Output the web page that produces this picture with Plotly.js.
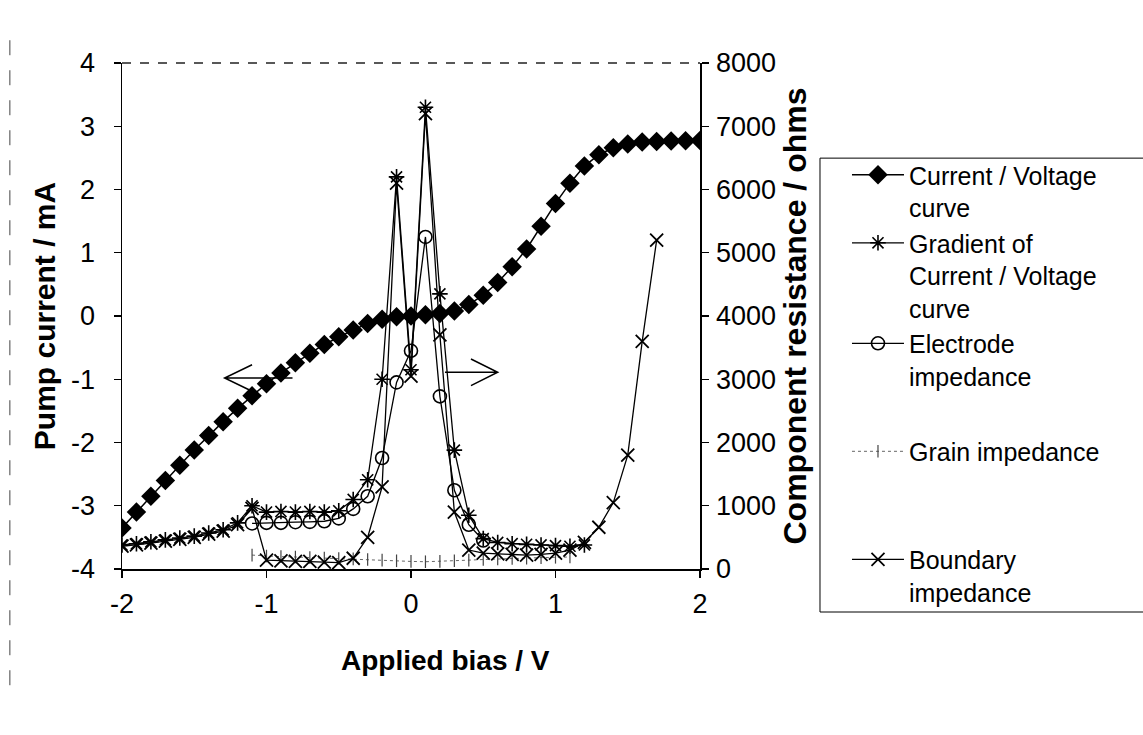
<!DOCTYPE html>
<html>
<head>
<meta charset="utf-8">
<script src="https://cdn.plot.ly/plotly-3.0.1.min.js"></script>
<style>
  html, body { margin: 0; padding: 0; background: #ffffff; }
  #chart { width: 1143px; height: 735px; }
</style>
</head>
<body>
<div id="chart"></div>
<script>
// Applied bias steps (V) for the current / voltage sweep
const bias = [-2.0, -1.9, -1.8, -1.7, -1.6, -1.5, -1.4, -1.3, -1.2, -1.1, -1.0,
              -0.9, -0.8, -0.7, -0.6, -0.5, -0.4, -0.3, -0.2, -0.1, 0.0,
              0.1, 0.2, 0.3, 0.4, 0.5, 0.6, 0.7, 0.8, 0.9, 1.0,
              1.1, 1.2, 1.3, 1.4, 1.5, 1.6, 1.7, 1.8, 1.9, 2.0];
// Pump current (mA)
const pumpCurrent = [-3.35, -3.10, -2.85, -2.60, -2.36, -2.12, -1.89, -1.67, -1.46, -1.26, -1.07,
                     -0.90, -0.74, -0.59, -0.45, -0.33, -0.22, -0.12, -0.05, -0.01, 0.00,
                     0.02, 0.04, 0.08, 0.18, 0.33, 0.53, 0.78, 1.06, 1.42, 1.78,
                     2.10, 2.37, 2.55, 2.66, 2.72, 2.75, 2.76, 2.765, 2.77, 2.775];

// Gradient of the current / voltage curve (ohms)
const gradientBias = [-2.0, -1.9, -1.8, -1.7, -1.6, -1.5, -1.4, -1.3, -1.2, -1.1, -1.0,
                      -0.9, -0.8, -0.7, -0.6, -0.5, -0.4, -0.3, -0.2, -0.1, 0.0,
                      0.1, 0.2, 0.3, 0.4, 0.5, 0.6, 0.7, 0.8, 0.9, 1.0, 1.1, 1.2];
const gradientOhms = [380, 400, 430, 460, 490, 520, 570, 620, 730, 1000, 900,
                      910, 900, 910, 900, 920, 1100, 1410, 3000, 6200, 3150,
                      7300, 4350, 1880, 850, 480, 420, 400, 390, 380, 370, 360, 380];

// Electrode impedance (ohms)
const electrodeBias = [-1.1, -1.0, -0.9, -0.8, -0.7, -0.6, -0.5, -0.4, -0.3, -0.2, -0.1,
                       0.0, 0.1, 0.2, 0.3, 0.4, 0.5];
const electrodeOhms = [720, 730, 730, 740, 745, 755, 800, 950, 1150, 1755, 2950,
                       3450, 5250, 2730, 1245, 700, 450];

// Grain impedance (ohms)
const grainBias = [-1.1, -1.0, -0.9, -0.8, -0.7, -0.6, -0.5, -0.4, -0.3, -0.2, -0.1, 0.0,
                   0.1, 0.2, 0.3, 0.4, 0.5, 0.6, 0.7, 0.8, 0.9, 1.0, 1.1];
const grainOhms = [220, 205, 195, 190, 180, 175, 165, 160, 150, 140, 130, 120,
                   115, 120, 130, 140, 150, 160, 165, 170, 180, 185, 190];

// Boundary impedance (ohms)
const boundaryBias = [-2.0, -1.9, -1.8, -1.7, -1.6, -1.5, -1.4, -1.3, -1.2, -1.1, -1.0,
                      -0.9, -0.8, -0.7, -0.6, -0.5, -0.4, -0.3, -0.2, -0.1, 0.0,
                      0.1, 0.2, 0.3, 0.4, 0.5, 0.6, 0.7, 0.8, 0.9, 1.0,
                      1.1, 1.2, 1.3, 1.4, 1.5, 1.6, 1.7];
const boundaryOhms = [360, 380, 410, 440, 470, 500, 550, 600, 700, 960, 140,
                      130, 120, 120, 110, 100, 170, 500, 1300, 6100, 3050,
                      7200, 3700, 900, 300, 250, 240, 230, 220, 230, 250,
                      300, 420, 660, 1050, 1800, 3600, 5200];

// Axis tick labels
const biasTicks = [-2, -1, 0, 1, 2];
const biasTickText = ['-2', '-1', '0', '1', '2'];
const currentTicks = [-4, -3, -2, -1, 0, 1, 2, 3, 4];
const currentTickText = ['-4', '-3', '-2', '-1', '0', '1', '2', '3', '4'];
const ohmTicks = [0, 1000, 2000, 3000, 4000, 5000, 6000, 7000, 8000];
const ohmTickText = ['0', '1000', '2000', '3000', '4000', '5000', '6000', '7000', '8000'];

const FONT = 'Liberation Sans, Arial, sans-serif';
const INK = '#000000';

const traces = [
  {
    name: 'Current / Voltage<br>curve',
    x: bias, y: pumpCurrent, yaxis: 'y', legendgroup: 'a',
    mode: 'lines+markers',
    line: { color: INK, width: 1.5 },
    marker: { symbol: 'diamond', size: 15, color: INK }
  },
  {
    name: 'Gradient of<br>Current / Voltage<br>curve',
    x: gradientBias, y: gradientOhms, yaxis: 'y2', legendgroup: 'a',
    mode: 'lines+markers',
    line: { color: INK, width: 1.3 },
    marker: { symbol: 'asterisk-open', size: 13, color: INK, line: { width: 1.6, color: INK } }
  },
  {
    name: 'Electrode<br>impedance',
    x: electrodeBias, y: electrodeOhms, yaxis: 'y2', legendgroup: 'a',
    mode: 'lines+markers',
    line: { color: INK, width: 1.3 },
    marker: { symbol: 'circle-open', size: 13, color: INK, line: { width: 1.6, color: INK } }
  },
  {
    name: 'Grain impedance<br> ',
    x: grainBias, y: grainOhms, yaxis: 'y2', legendgroup: 'b',
    mode: 'lines+markers',
    line: { color: '#666666', width: 1, dash: 'dot' },
    marker: { symbol: 'line-ns-open', size: 9, color: '#444444', line: { width: 1.2, color: '#444444' } }
  },
  {
    name: 'Boundary<br>impedance',
    x: boundaryBias, y: boundaryOhms, yaxis: 'y2', legendgroup: 'c',
    mode: 'lines+markers',
    line: { color: INK, width: 1.3 },
    marker: { symbol: 'x-thin-open', size: 13, color: INK, line: { width: 1.8, color: INK } }
  }
];

const axisCommon = {
  showgrid: false, zeroline: false,
  showline: true, linecolor: INK, linewidth: 1.5,
  ticks: 'outside', ticklen: 7, tickwidth: 1.2, tickcolor: INK,
  tickfont: { family: FONT, size: 27, color: INK }
};
// Inner halves of the crossing tick marks
const innerTicks = {
  showgrid: false, zeroline: false, showline: false, showticklabels: false,
  ticks: 'inside', ticklen: 5, tickwidth: 1.2, tickcolor: INK
};
const titleFont = (s) => ({ family: FONT, size: s, color: INK });

const layout = {
  width: 1143, height: 735,
  margin: { l: 122, r: 443, t: 63, b: 166 },
  paper_bgcolor: '#ffffff', plot_bgcolor: '#ffffff',
  font: { family: FONT, color: INK },
  showlegend: true,
  xaxis: Object.assign({}, axisCommon, {
    range: [-2, 2], tickvals: biasTicks, ticktext: biasTickText,
    ticklabelstandoff: 3
  }),
  yaxis: Object.assign({}, axisCommon, {
    range: [-4, 4], tickvals: currentTicks, ticktext: currentTickText,
    ticklabelstandoff: 13,
    title: { text: '<b>Pump current / mA</b>', font: titleFont(30), standoff: 6 }
  }),
  yaxis2: Object.assign({}, axisCommon, {
    overlaying: 'y', side: 'right',
    range: [0, 8000], tickvals: ohmTicks, ticktext: ohmTickText,
    ticklabelstandoff: 2,
    title: { text: '<b>Component resistance / ohms</b>', font: titleFont(32), standoff: 8 }
  }),
  xaxis2: Object.assign({}, innerTicks, {
    overlaying: 'x', anchor: 'y', side: 'bottom', range: [-2, 2], tickvals: biasTicks
  }),
  yaxis3: Object.assign({}, innerTicks, {
    overlaying: 'y', anchor: 'x', side: 'left', range: [-4, 4], tickvals: currentTicks
  }),
  yaxis4: Object.assign({}, innerTicks, {
    overlaying: 'y', anchor: 'x', side: 'right', range: [0, 8000], tickvals: ohmTicks
  }),
  legend: {
    x: 1.2543, y: 0.824, xanchor: 'left', yanchor: 'top',
    bgcolor: 'rgba(0,0,0,0)', borderwidth: 0,
    font: { family: FONT, size: 25, color: INK },
    traceorder: 'grouped', tracegroupgap: 40,
    valign: 'top', itemwidth: 52
  },
  annotations: [
    { text: '<b>Applied bias / V</b>', xref: 'paper', yref: 'paper',
      x: 0.559, y: -0.18, xanchor: 'center', yanchor: 'middle', showarrow: false,
      font: titleFont(28) }
  ],
  shapes: [
    // dashed top edge of the plot frame
    { type: 'line', xref: 'paper', yref: 'paper', x0: 0, x1: 1, y0: 1, y1: 1,
      line: { color: '#222222', width: 1.3, dash: 'dash' } },
    // dashed outer chart edge on the left
    { type: 'line', xref: 'paper', yref: 'paper', x0: -0.194, x1: -0.194, y0: 1.045, y1: -0.24,
      line: { color: '#444444', width: 1, dash: 'longdash' } },
    // legend frame, running off the right edge
    { type: 'rect', xref: 'paper', yref: 'paper', x0: 1.2076, x1: 1.8, y0: -0.085, y1: 0.812,
      line: { color: INK, width: 1 }, fillcolor: 'rgba(0,0,0,0)', layer: 'below' },
    // arrow pointing to the current axis
    { type: 'path', xref: 'x', yref: 'y',
      path: 'M -0.82 -0.98 L -1.29 -0.98 M -1.10 -0.77 L -1.29 -0.98 L -1.10 -1.19',
      line: { color: INK, width: 1.5 } },
    // arrow pointing to the resistance axis
    { type: 'path', xref: 'x', yref: 'y',
      path: 'M 0.235 -0.89 L 0.60 -0.89 M 0.415 -0.68 L 0.60 -0.89 L 0.415 -1.10',
      line: { color: INK, width: 1.5 } }
  ]
};

Plotly.newPlot('chart', traces, layout, { displayModeBar: false, staticPlot: true });
</script>
</body>
</html>
